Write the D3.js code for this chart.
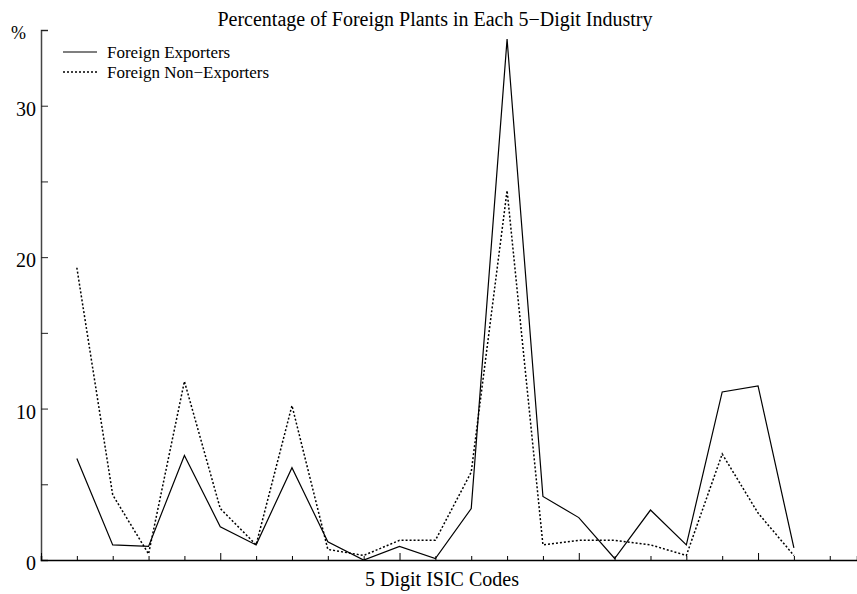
<!DOCTYPE html>
<html>
<head>
<meta charset="utf-8">
<script src="https://cdn.jsdelivr.net/npm/d3@7"></script>
<style>
  body { margin: 0; background: #fff; }
  text { font-family: "Liberation Serif", "Times New Roman", serif; fill: #000; }
</style>
</head>
<body>
<script>
var width = 857, height = 594;

// industries, numbered along the x axis (no code labels shown)
var industry = [1, 2, 3, 4, 5, 6, 7, 8, 9, 10, 11, 12, 13, 14, 15, 16, 17, 18, 19, 20, 21];
// percent of foreign plants
var exporters    = [6.7, 1.0, 0.9, 6.9, 2.2, 1.0, 6.1, 1.2, 0.0, 0.9, 0.1, 3.4, 34.4, 4.2, 2.8, 0.1, 3.3, 1.0, 11.1, 11.5, 0.8];
var nonExporters = [19.3, 4.3, 0.4, 11.8, 3.4, 1.0, 10.2, 0.7, 0.3, 1.3, 1.3, 5.8, 24.4, 1.0, 1.3, 1.3, 1.0, 0.3, 7.0, 3.1, 0.3];
var yTicks = [0, 5, 10, 15, 20, 25, 30, 35];
var xTicks = [0, 1, 2, 3, 4, 5, 6, 7, 8, 9, 10, 11, 12, 13, 14, 15, 16, 17, 18, 19, 20, 21, 22];

var margin = {left: 41, top: 30, bottom: 34};

var svg = d3.select("body").append("svg")
            .attr("width", width)
            .attr("height", height);

var x = d3.scaleLinear().domain([0, 22.76]).range([margin.left, width]);
var y = d3.scaleLinear().domain([0, 35]).range([height - margin.bottom, margin.top]);

// y axis, ticks pointing into the plot
var yAxis = d3.axisRight(y).tickValues(yTicks).tickSize(7).tickFormat("");
var gy = svg.append("g").attr("transform", "translate(" + margin.left + ",0)").call(yAxis);
gy.select(".domain").attr("stroke", "#444").attr("stroke-width", 1.5);
gy.selectAll(".tick line").attr("stroke", "#222");

svg.selectAll(".ylab")
   .data(yTicks.filter(function(d){ return d % 10 == 0; }))
   .enter().append("text")
   .attr("class", "ylab")
   .attr("x", margin.left - 5)
   .attr("y", function(d){ return y(d) + 10; })
   .attr("text-anchor", "end")
   .style("font-size", "20px")
   .text(function(d){ return d; });

// x axis, ticks pointing up, longer every 5th
var xAxis = d3.axisTop(x).tickValues(xTicks).tickSize(4).tickFormat("");
var gx = svg.append("g").attr("transform", "translate(0," + y(0) + ")").call(xAxis);
gx.select(".domain").attr("stroke", "#000").attr("stroke-width", 1.5);
gx.selectAll(".tick line")
  .attr("y2", function(d){ return d % 5 == 0 ? -7 : -4; })
  .attr("stroke", "#000");

var line = d3.line()
             .x(function(d, i){ return x(industry[i]); })
             .y(function(d){ return y(d); });

svg.append("path")
   .attr("d", line(exporters))
   .attr("fill", "none")
   .attr("stroke", "#000")
   .attr("stroke-width", 1.2);

svg.append("path")
   .attr("d", line(nonExporters))
   .attr("fill", "none")
   .attr("stroke", "#000")
   .attr("stroke-width", 1.5)
   .attr("stroke-dasharray", "2,2");

// legend
var legend = [
  {label: "Foreign Exporters", dash: null, y: 52},
  {label: "Foreign Non\u2212Exporters", dash: "2,2", y: 72}
];
legend.forEach(function(l){
  svg.append("line")
     .attr("x1", 63).attr("x2", 97)
     .attr("y1", l.y).attr("y2", l.y)
     .attr("stroke", "#000")
     .attr("stroke-width", l.dash ? 1.5 : 1.2)
     .attr("stroke-dasharray", l.dash);
  svg.append("text")
     .attr("x", 107)
     .attr("y", l.y + 6)
     .style("font-size", "17px")
     .text(l.label);
});

svg.append("text")
   .attr("x", 435)
   .attr("y", 26)
   .attr("text-anchor", "middle")
   .style("font-size", "20px")
   .text("Percentage of Foreign Plants in Each 5\u2212Digit Industry");

svg.append("text")
   .attr("x", 11)
   .attr("y", 39)
   .style("font-size", "18px")
   .text("%");

svg.append("text")
   .attr("x", 442)
   .attr("y", 586)
   .attr("text-anchor", "middle")
   .style("font-size", "20px")
   .text("5 Digit ISIC Codes");
</script>
</body>
</html>
